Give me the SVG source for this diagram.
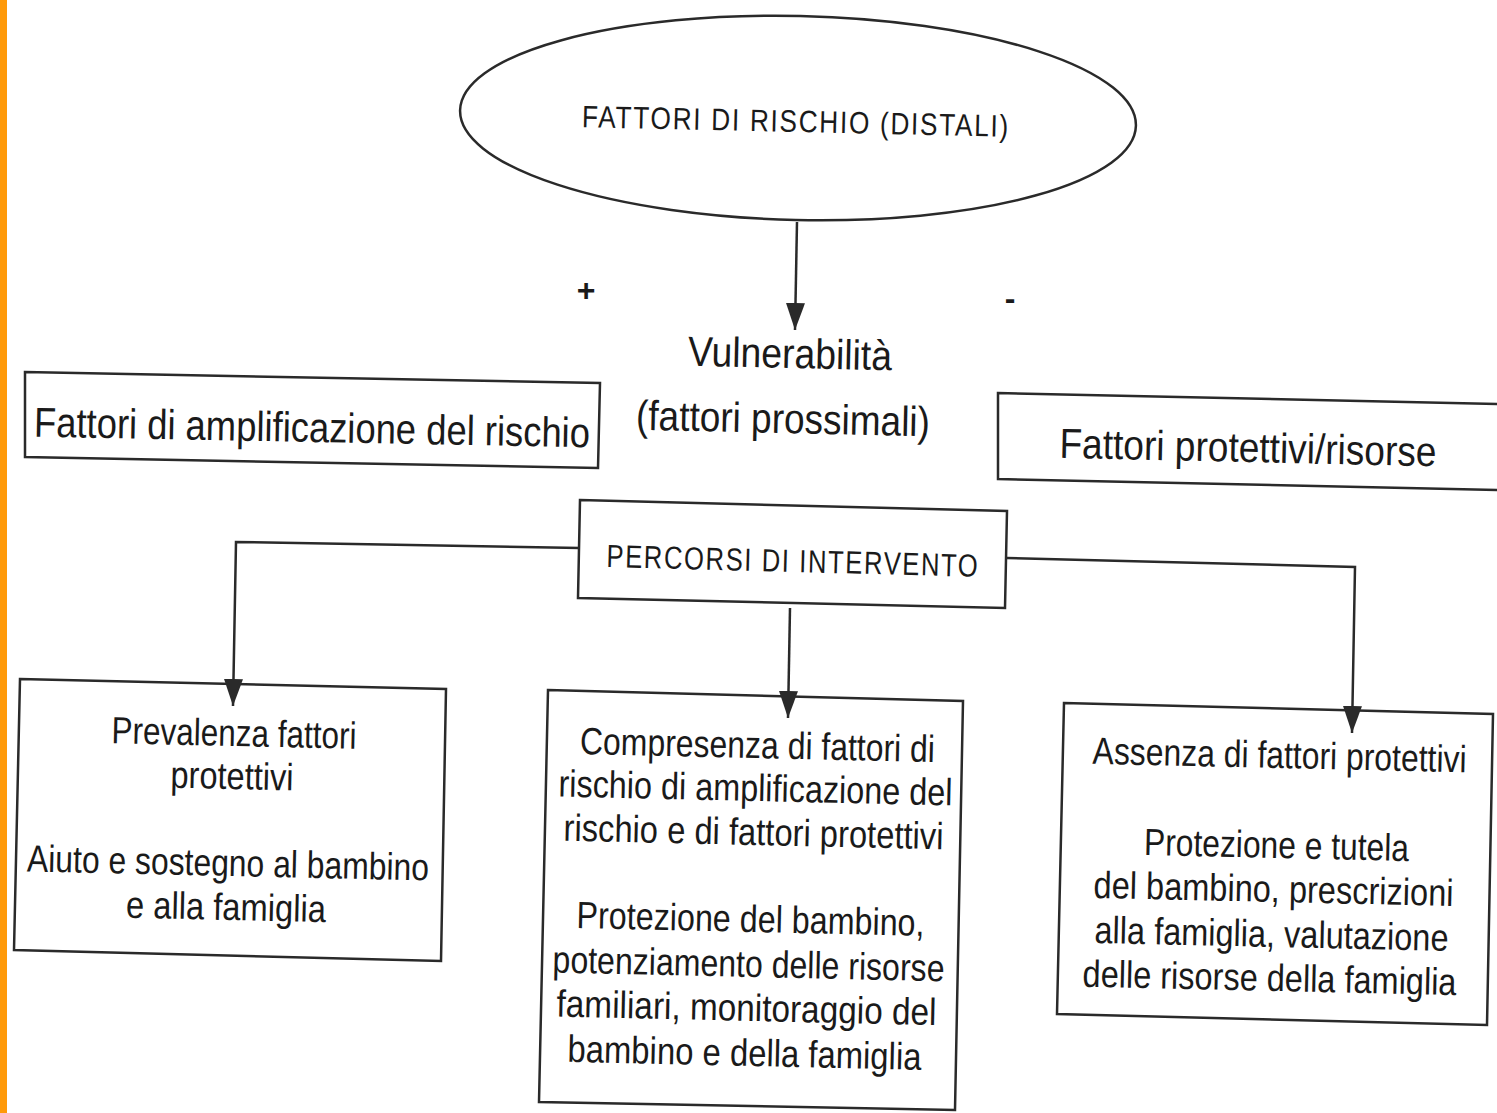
<svg xmlns="http://www.w3.org/2000/svg" width="1497" height="1113" viewBox="0 0 1497 1113">
<style>
.box{fill:#ffffff;stroke:#2a2a2a;stroke-width:2.5}
.ln{fill:none;stroke:#2a2a2a;stroke-width:2.5}
.t{font-family:"Liberation Sans Narrow","Liberation Sans",Arial,sans-serif;fill:#1a1a1a;text-anchor:middle}
.b{font-size:38px}
.h{font-size:42px}
.c{font-size:32px;letter-spacing:2px}
</style>
<defs>
<marker id="arr" markerUnits="userSpaceOnUse" markerWidth="28" markerHeight="20" refX="27" refY="9.5" orient="auto">
<path d="M0,0 L27,9.5 L0,19 Z" fill="#2a2a2a"/>
</marker>
</defs>
<rect x="0" y="0" width="1497" height="1113" fill="#ffffff"/>
<rect x="0" y="0" width="7" height="1113" fill="#FF9A0A"/>

<g id="fattori-rischio">
<ellipse class="box" cx="798" cy="118" rx="338" ry="102" transform="rotate(1.3 798 118)"/>
<text class="t" x="796" y="132" font-size="31" letter-spacing="2" textLength="428" lengthAdjust="spacingAndGlyphs" transform="rotate(1.3 796 122)">FATTORI DI RISCHIO (DISTALI)</text>
</g>

<g id="segni">
<text class="t" x="586" y="301" font-size="32" font-weight="bold">+</text>
<text class="t" x="1010" y="309" font-size="32" font-weight="bold">-</text>
</g>

<g id="vulnerabilita">
<text class="t h" x="790" y="368" textLength="204" lengthAdjust="spacingAndGlyphs" transform="rotate(1.3 790 355)">Vulnerabilità</text>
<text class="t h" x="783" y="433" textLength="294" lengthAdjust="spacingAndGlyphs" transform="rotate(1.3 783 420)">(fattori prossimali)</text>
</g>

<g id="amplificazione">
<polygon class="box" points="25,372 600,383 598,468 25,457"/>
<text class="t h" x="312" y="442" textLength="556" lengthAdjust="spacingAndGlyphs" transform="rotate(1.1 312 428)">Fattori di amplificazione del rischio</text>
</g>

<g id="protettivi">
<polygon class="box" points="998,393 1499,404 1499,490 998,479"/>
<text class="t h" x="1248" y="462" textLength="377" lengthAdjust="spacingAndGlyphs" transform="rotate(1.3 1248 448)">Fattori protettivi/risorse</text>
</g>

<g id="percorsi">
<polygon class="box" points="580,500 1007,511 1005,608 578,598"/>
<text class="t c" x="793" y="572" textLength="373" lengthAdjust="spacingAndGlyphs" transform="rotate(1.5 793 560)">PERCORSI DI INTERVENTO</text>
</g>

<g id="prevalenza">
<polygon class="box" points="20,679 446,689 441,961 14,950"/>
<g transform="rotate(1.3 230 820)">
<text class="t b" x="232" y="746" textLength="245" lengthAdjust="spacingAndGlyphs">Prevalenza fattori</text>
<text class="t b" x="231" y="789" textLength="123" lengthAdjust="spacingAndGlyphs">protettivi</text>
<text class="t b" x="229" y="876" textLength="402" lengthAdjust="spacingAndGlyphs">Aiuto e sostegno al bambino</text>
<text class="t b" x="228" y="920" textLength="200" lengthAdjust="spacingAndGlyphs">e alla famiglia</text>
</g>
</g>

<g id="compresenza">
<polygon class="box" points="548,690 963,701 955,1110 539,1102"/>
<g transform="rotate(1.3 752 900)">
<text class="t b" x="754" y="758" textLength="355" lengthAdjust="spacingAndGlyphs">Compresenza di fattori di</text>
<text class="t b" x="753" y="801" textLength="394" lengthAdjust="spacingAndGlyphs">rischio di amplificazione del</text>
<text class="t b" x="752" y="845" textLength="380" lengthAdjust="spacingAndGlyphs">rischio e di fattori protettivi</text>
<text class="t b" x="751" y="932" textLength="348" lengthAdjust="spacingAndGlyphs">Protezione del bambino,</text>
<text class="t b" x="750" y="977" textLength="392" lengthAdjust="spacingAndGlyphs">potenziamento delle risorse</text>
<text class="t b" x="749" y="1021" textLength="380" lengthAdjust="spacingAndGlyphs">familiari, monitoraggio del</text>
<text class="t b" x="748" y="1066" textLength="354" lengthAdjust="spacingAndGlyphs">bambino e della famiglia</text>
</g>
</g>

<g id="assenza">
<polygon class="box" points="1064,703 1493,714 1487,1025 1057,1014"/>
<g transform="rotate(1.3 1275 870)">
<text class="t b" x="1277" y="768" textLength="374" lengthAdjust="spacingAndGlyphs">Assenza di fattori protettivi</text>
<text class="t b" x="1276" y="858" textLength="265" lengthAdjust="spacingAndGlyphs">Protezione e tutela</text>
<text class="t b" x="1274" y="902" textLength="360" lengthAdjust="spacingAndGlyphs">del bambino, prescrizioni</text>
<text class="t b" x="1273" y="947" textLength="354" lengthAdjust="spacingAndGlyphs">alla famiglia, valutazione</text>
<text class="t b" x="1272" y="991" textLength="374" lengthAdjust="spacingAndGlyphs">delle risorse della famiglia</text>
</g>
</g>

<g id="connectors">
<path class="ln" d="M797,222 L795,330" marker-end="url(#arr)"/>
<path class="ln" d="M580,548 L236,542 L233,706" marker-end="url(#arr)"/>
<path class="ln" d="M790,608 L788,718" marker-end="url(#arr)"/>
<path class="ln" d="M1007,558 L1355,567 L1352,733" marker-end="url(#arr)"/>
</g>
</svg>
